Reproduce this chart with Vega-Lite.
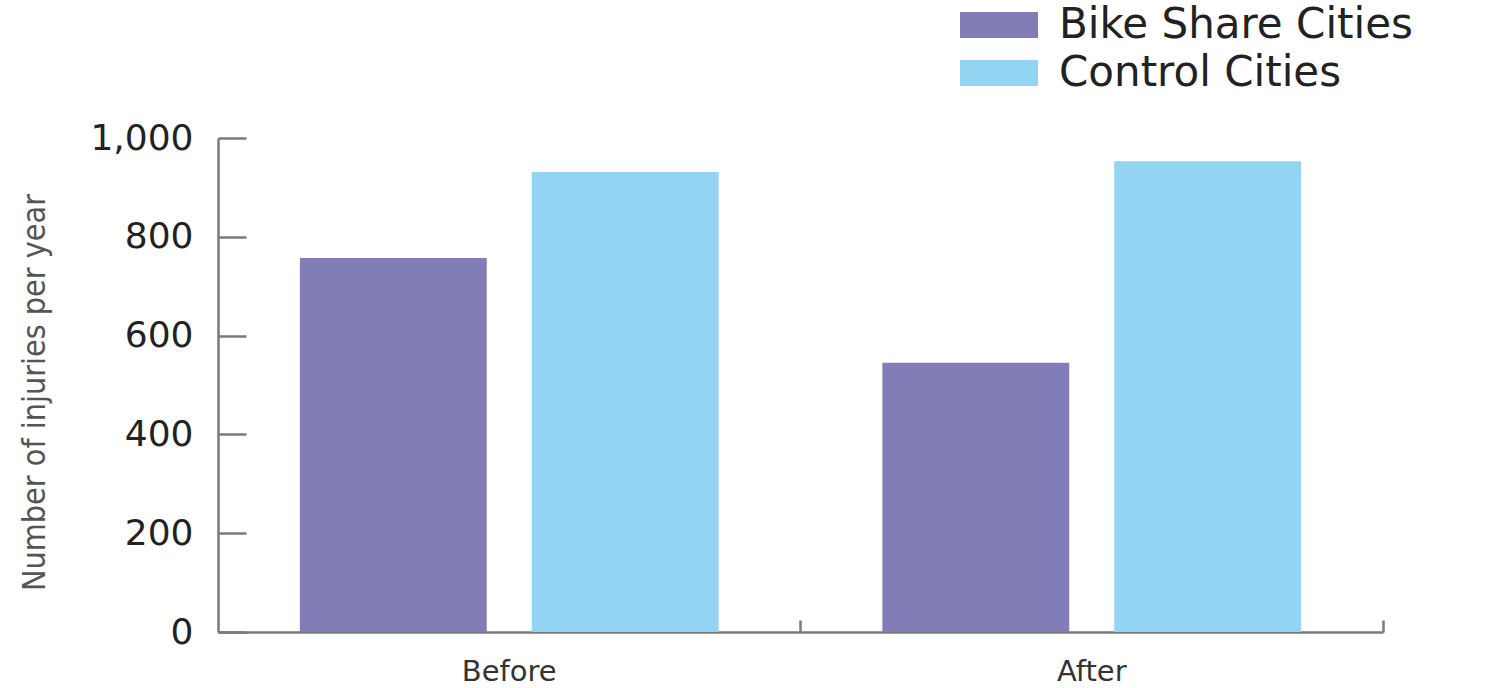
{
  "$schema": "https://vega.github.io/schema/vega-lite/v6.json",
  "width": 1165,
  "height": 494,
  "autosize": {"type": "none"},
  "padding": {"left": 218, "top": 138, "right": 102, "bottom": 56},
  "background": "white",
  "data": {
    "values": [
      {"period": "Before", "group": "Bike Share Cities", "injuries": 757},
      {"period": "Before", "group": "Control Cities", "injuries": 931},
      {"period": "After", "group": "Bike Share Cities", "injuries": 545},
      {"period": "After", "group": "Control Cities", "injuries": 953}
    ]
  },
  "mark": {"type": "bar"},
  "encoding": {
    "x": {
      "field": "period",
      "type": "nominal",
      "sort": ["Before", "After"],
      "scale": {"paddingInner": 0, "paddingOuter": 0},
      "axis": {
        "title": null,
        "domainColor": "#7a7a7a",
        "domainWidth": 2.5,
        "ticks": true,
        "tickSize": -12,
        "tickColor": "#7a7a7a",
        "tickWidth": 2.5,
        "bandPosition": 1,
        "labelAngle": 0,
        "labelFont": "DejaVu Sans",
        "labelFontSize": 29,
        "labelColor": "#333333",
        "labelPadding": 37,
        "grid": false
      }
    },
    "xOffset": {
      "field": "group",
      "type": "nominal",
      "sort": ["Bike Share Cities", "Control Cities"],
      "scale": {"paddingInner": 0.194, "paddingOuter": 0.353}
    },
    "y": {
      "field": "injuries",
      "type": "quantitative",
      "scale": {"domain": [0, 1000], "nice": false},
      "axis": {
        "values": [0, 200, 400, 600, 800, 1000],
        "format": ",d",
        "title": "Number of injuries per year",
        "grid": false,
        "domainColor": "#7a7a7a",
        "domainWidth": 2.5,
        "tickColor": "#7a7a7a",
        "tickWidth": 2.5,
        "tickSize": -28,
        "labelPadding": 53,
        "labelFont": "DejaVu Sans",
        "labelFontSize": 36,
        "labelColor": "#222222",
        "titleFont": "DejaVu Sans Condensed, Liberation Sans, sans-serif",
        "titleFontSize": 32,
        "titleFontWeight": "normal",
        "titleColor": "#555555",
        "titleX": -184,
        "titleY": 254,
        "titleAngle": -90,
        "titleBaseline": "middle",
        "titleAlign": "center"
      }
    },
    "color": {
      "field": "group",
      "type": "nominal",
      "sort": ["Bike Share Cities", "Control Cities"],
      "scale": {"domain": ["Bike Share Cities", "Control Cities"], "range": ["#817EB7", "#92D4F2"]},
      "legend": {
        "title": null,
        "orient": "none",
        "legendX": 760,
        "legendY": -134,
        "direction": "vertical",
        "symbolType": "M-3,-1L3,-1L3,1L-3,1Z",
        "symbolSize": 676,
        "symbolStrokeWidth": 0,
        "symbolOpacity": 1,
        "labelFont": "DejaVu Sans",
        "labelFontSize": 42,
        "labelColor": "#222222",
        "labelOffset": 39,
        "rowPadding": 6,
        "padding": 0,
        "labelLimit": 600
      }
    }
  },
  "config": {"view": {"stroke": null}}
}
